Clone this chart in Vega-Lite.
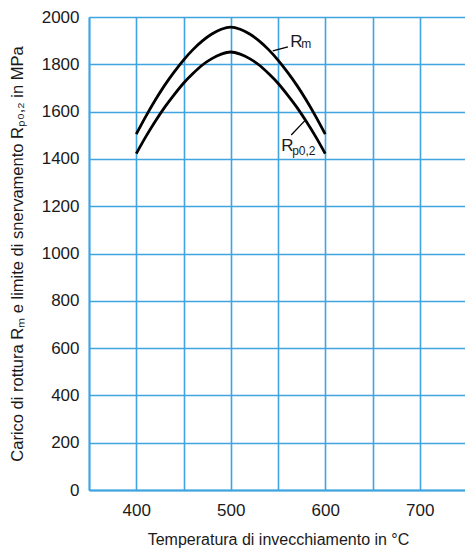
{
  "$schema": "https://vega.github.io/schema/vega-lite/v6.json",
  "autosize": {"type": "none"},
  "padding": {"left": 89, "top": 17, "right": 0, "bottom": 59},
  "width": 378,
  "height": 473,
  "background": "white",
  "config": {
    "view": {"stroke": null},
    "font": "Liberation Sans",
    "axis": {
      "gridColor": "#3FA4E0",
      "gridWidth": 1.6,
      "gridOpacity": 1,
      "domainColor": "#3FA4E0",
      "domainWidth": 1.8,
      "ticks": false,
      "labelFont": "Liberation Sans",
      "labelFontSize": 17,
      "labelColor": "#1a1a1a",
      "titleFont": "Liberation Sans",
      "titleFontSize": 16,
      "titleFontWeight": "normal",
      "titleColor": "#1a1a1a"
    }
  },
  "datasets": {
    "curves": [
      {"T": 400, "v": 1505, "s": "Rm"}, {"T": 410, "v": 1579, "s": "Rm"}, {"T": 420, "v": 1648, "s": "Rm"},
      {"T": 430, "v": 1711, "s": "Rm"}, {"T": 440, "v": 1767, "s": "Rm"}, {"T": 450, "v": 1818, "s": "Rm"},
      {"T": 460, "v": 1862, "s": "Rm"}, {"T": 470, "v": 1899, "s": "Rm"}, {"T": 480, "v": 1928, "s": "Rm"},
      {"T": 490, "v": 1948, "s": "Rm"}, {"T": 500, "v": 1957, "s": "Rm"}, {"T": 510, "v": 1948, "s": "Rm"},
      {"T": 520, "v": 1928, "s": "Rm"}, {"T": 530, "v": 1899, "s": "Rm"}, {"T": 540, "v": 1862, "s": "Rm"},
      {"T": 550, "v": 1818, "s": "Rm"}, {"T": 560, "v": 1767, "s": "Rm"}, {"T": 570, "v": 1711, "s": "Rm"},
      {"T": 580, "v": 1648, "s": "Rm"}, {"T": 590, "v": 1579, "s": "Rm"}, {"T": 600, "v": 1505, "s": "Rm"},
      {"T": 400, "v": 1422, "s": "Rp"}, {"T": 410, "v": 1493, "s": "Rp"}, {"T": 420, "v": 1558, "s": "Rp"},
      {"T": 430, "v": 1618, "s": "Rp"}, {"T": 440, "v": 1671, "s": "Rp"}, {"T": 450, "v": 1720, "s": "Rp"},
      {"T": 460, "v": 1761, "s": "Rp"}, {"T": 470, "v": 1797, "s": "Rp"}, {"T": 480, "v": 1824, "s": "Rp"},
      {"T": 490, "v": 1843, "s": "Rp"}, {"T": 500, "v": 1852, "s": "Rp"}, {"T": 510, "v": 1843, "s": "Rp"},
      {"T": 520, "v": 1824, "s": "Rp"}, {"T": 530, "v": 1797, "s": "Rp"}, {"T": 540, "v": 1761, "s": "Rp"},
      {"T": 550, "v": 1720, "s": "Rp"}, {"T": 560, "v": 1671, "s": "Rp"}, {"T": 570, "v": 1618, "s": "Rp"},
      {"T": 580, "v": 1558, "s": "Rp"}, {"T": 590, "v": 1493, "s": "Rp"}, {"T": 600, "v": 1422, "s": "Rp"}
    ],
    "leaders": [
      {"T": 544.5, "v": 1857, "T2": 560.5, "v2": 1874},
      {"T": 564, "v": 1501, "T2": 579.2, "v2": 1565}
    ],
    "mainLabels": [
      {"T": 563, "v": 1874, "text": "R"},
      {"T": 553.4, "v": 1435, "text": "R"}
    ],
    "subLabels": [
      {"T": 574.6, "v": 1868, "text": "m"},
      {"T": 565, "v": 1417, "text": "p0,2"}
    ]
  },
  "layer": [
    {
      "data": {"name": "curves"},
      "mark": {"type": "line", "color": "black", "strokeWidth": 2.8, "interpolate": "monotone"},
      "encoding": {
        "x": {
          "field": "T", "type": "quantitative",
          "scale": {"domain": [350, 750], "nice": false, "zero": false},
          "axis": {
            "title": "Temperatura di invecchiamento in °C",
            "values": [350, 400, 450, 500, 550, 600, 650, 700, 750],
            "format": "d",
            "labelExpr": "datum.value % 100 == 0 ? datum.label : ''",
            "labelPadding": 12,
            "titlePadding": 13
          }
        },
        "y": {
          "field": "v", "type": "quantitative",
          "scale": {"domain": [0, 2000], "nice": false},
          "axis": {
            "title": "Carico di rottura Rₘ e limite di snervamento Rₚ₀,₂ in MPa",
            "titleFontSize": 16.5,
            "values": [0, 200, 400, 600, 800, 1000, 1200, 1400, 1600, 1800, 2000],
            "format": "d",
            "labelPadding": 10,
            "titlePadding": 16
          }
        },
        "detail": {"field": "s"}
      }
    },
    {
      "data": {"name": "leaders"},
      "mark": {"type": "rule", "color": "black", "strokeWidth": 1.3},
      "encoding": {
        "x": {"field": "T", "type": "quantitative"},
        "y": {"field": "v", "type": "quantitative"},
        "x2": {"field": "T2"},
        "y2": {"field": "v2"}
      }
    },
    {
      "data": {"name": "mainLabels"},
      "mark": {"type": "text", "align": "left", "baseline": "alphabetic", "fontSize": 17, "font": "Liberation Sans", "color": "#1a1a1a"},
      "encoding": {
        "x": {"field": "T", "type": "quantitative"},
        "y": {"field": "v", "type": "quantitative"},
        "text": {"field": "text"}
      }
    },
    {
      "data": {"name": "subLabels"},
      "mark": {"type": "text", "align": "left", "baseline": "alphabetic", "fontSize": 12, "font": "Liberation Sans", "color": "#1a1a1a"},
      "encoding": {
        "x": {"field": "T", "type": "quantitative"},
        "y": {"field": "v", "type": "quantitative"},
        "text": {"field": "text"}
      }
    }
  ]
}
